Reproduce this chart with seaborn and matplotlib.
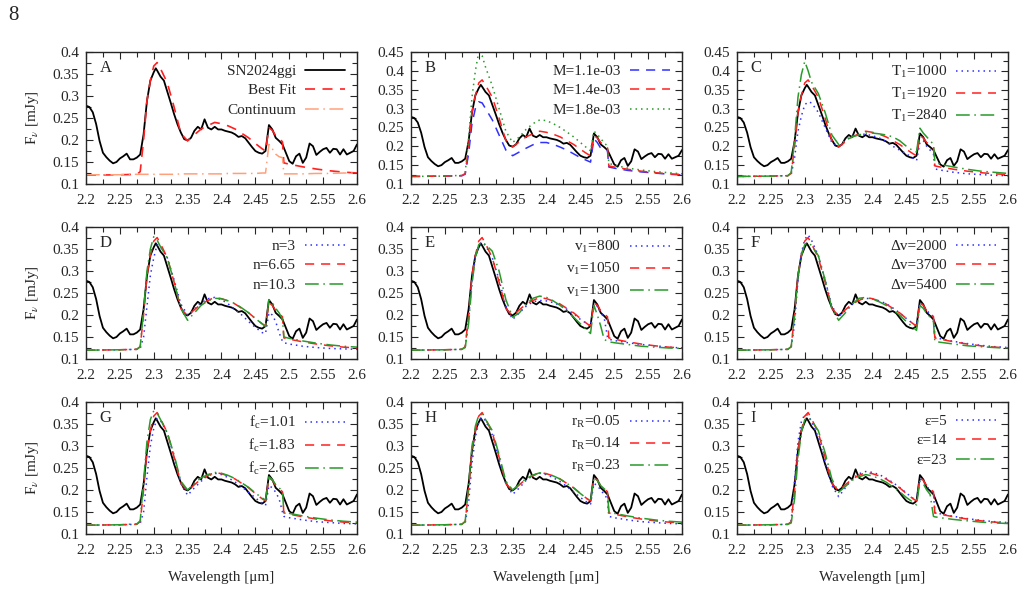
import matplotlib
matplotlib.use("Agg")
import matplotlib.pyplot as plt
from matplotlib.ticker import MultipleLocator
import seaborn as sns
import numpy as np

# observed spectrum SN2024ggi
obs_wl = [2.200, 2.205, 2.210, 2.215, 2.220, 2.225, 2.230, 2.235, 2.240, 2.245,
          2.250, 2.255, 2.260, 2.265, 2.270, 2.275, 2.280, 2.285, 2.290, 2.295,
          2.300, 2.303, 2.305, 2.310, 2.315, 2.320, 2.325, 2.330, 2.335, 2.340,
          2.345, 2.350, 2.355, 2.360, 2.365, 2.370, 2.375, 2.380, 2.385, 2.390,
          2.395, 2.400, 2.405, 2.410, 2.415, 2.420, 2.425, 2.430, 2.435, 2.440,
          2.445, 2.450, 2.455, 2.460, 2.465, 2.470, 2.475, 2.480, 2.485, 2.490,
          2.495, 2.500, 2.505, 2.510, 2.515, 2.520, 2.525, 2.530, 2.535, 2.540,
          2.545, 2.550, 2.555, 2.560, 2.565, 2.570, 2.575, 2.580, 2.585, 2.590,
          2.595, 2.600]
obs_flux = [0.278, 0.275, 0.263, 0.236, 0.198, 0.171, 0.161, 0.153, 0.147, 0.150,
            0.158, 0.163, 0.169, 0.156, 0.156, 0.160, 0.167, 0.213, 0.289, 0.335,
            0.354, 0.363, 0.358, 0.344, 0.335, 0.310, 0.285, 0.259, 0.236, 0.217,
            0.202, 0.199, 0.205, 0.221, 0.230, 0.224, 0.247, 0.228, 0.224, 0.230,
            0.224, 0.224, 0.221, 0.219, 0.217, 0.213, 0.207, 0.209, 0.204, 0.194,
            0.184, 0.175, 0.171, 0.169, 0.175, 0.234, 0.224, 0.205, 0.198, 0.190,
            0.171, 0.152, 0.146, 0.163, 0.169, 0.148, 0.160, 0.192, 0.186, 0.166,
            0.173, 0.179, 0.182, 0.171, 0.180, 0.179, 0.167, 0.179, 0.167, 0.171,
            0.175, 0.190]

# model wavelength grid
mod_wl = [2.200, 2.250, 2.275, 2.280, 2.285, 2.290, 2.295, 2.300, 2.305, 2.310,
          2.320, 2.330, 2.340, 2.350, 2.360, 2.370, 2.380, 2.390, 2.400, 2.410,
          2.420, 2.430, 2.440, 2.450, 2.460, 2.465, 2.470, 2.475, 2.480, 2.485,
          2.490, 2.492, 2.500, 2.520, 2.540, 2.560, 2.580, 2.600]

best_fit = [0.120, 0.121, 0.122, 0.128, 0.200, 0.290, 0.335, 0.368, 0.376, 0.362,
            0.330, 0.275, 0.215, 0.198, 0.212, 0.225, 0.233, 0.240, 0.237, 0.232,
            0.225, 0.215, 0.205, 0.192, 0.180, 0.175, 0.228, 0.222, 0.210, 0.203,
            0.196, 0.148, 0.145, 0.139, 0.134, 0.130, 0.127, 0.125]
continuum = [0.121, 0.121, 0.122, 0.122, 0.122, 0.122, 0.122, 0.122, 0.122, 0.122,
             0.122, 0.122, 0.123, 0.123, 0.123, 0.123, 0.123, 0.123, 0.123, 0.124,
             0.124, 0.124, 0.124, 0.124, 0.125, 0.125, 0.190, 0.180, 0.168, 0.162,
             0.160, 0.123, 0.123, 0.123, 0.124, 0.124, 0.125, 0.125]

b_low = [0.120, 0.121, 0.122, 0.126, 0.180, 0.260, 0.300, 0.318, 0.315, 0.300,
         0.270, 0.230, 0.190, 0.175, 0.185, 0.195, 0.204, 0.210, 0.210, 0.205,
         0.198, 0.190, 0.180, 0.170, 0.162, 0.158, 0.220, 0.210, 0.195, 0.190,
         0.188, 0.145, 0.142, 0.136, 0.132, 0.129, 0.126, 0.124]
b_high = [0.120, 0.121, 0.123, 0.130, 0.220, 0.330, 0.400, 0.450, 0.440, 0.410,
          0.360, 0.300, 0.240, 0.210, 0.225, 0.245, 0.260, 0.270, 0.268, 0.260,
          0.250, 0.238, 0.225, 0.210, 0.195, 0.188, 0.240, 0.232, 0.220, 0.210,
          0.200, 0.155, 0.150, 0.142, 0.137, 0.133, 0.130, 0.127]
c_low = [0.120, 0.121, 0.122, 0.125, 0.170, 0.240, 0.280, 0.310, 0.318, 0.315,
         0.290, 0.250, 0.210, 0.200, 0.215, 0.228, 0.232, 0.232, 0.228, 0.222,
         0.212, 0.200, 0.190, 0.180, 0.168, 0.162, 0.210, 0.215, 0.200, 0.190,
         0.180, 0.140, 0.137, 0.131, 0.127, 0.125, 0.123, 0.122]
c_high = [0.120, 0.121, 0.122, 0.130, 0.220, 0.330, 0.390, 0.425, 0.400, 0.370,
          0.340, 0.290, 0.230, 0.205, 0.215, 0.225, 0.230, 0.235, 0.235, 0.233,
          0.230, 0.225, 0.215, 0.200, 0.188, 0.185, 0.248, 0.235, 0.225, 0.215,
          0.205, 0.160, 0.152, 0.145, 0.139, 0.134, 0.131, 0.128]
d_low = [0.120, 0.121, 0.122, 0.124, 0.150, 0.220, 0.290, 0.330, 0.360, 0.355,
         0.330, 0.280, 0.225, 0.200, 0.213, 0.228, 0.237, 0.240, 0.235, 0.225,
         0.212, 0.200, 0.185, 0.172, 0.160, 0.158, 0.205, 0.200, 0.185, 0.160,
         0.140, 0.137, 0.134, 0.129, 0.126, 0.124, 0.123, 0.122]
d_high = [0.120, 0.121, 0.122, 0.128, 0.210, 0.300, 0.350, 0.378, 0.370, 0.355,
          0.330, 0.275, 0.215, 0.188, 0.205, 0.222, 0.232, 0.238, 0.237, 0.232,
          0.226, 0.216, 0.205, 0.192, 0.180, 0.174, 0.235, 0.228, 0.215, 0.205,
          0.190, 0.150, 0.147, 0.141, 0.136, 0.132, 0.129, 0.127]
e_low = [0.120, 0.121, 0.122, 0.127, 0.190, 0.280, 0.330, 0.360, 0.365, 0.358,
         0.330, 0.280, 0.220, 0.190, 0.205, 0.220, 0.230, 0.233, 0.232, 0.228,
         0.222, 0.213, 0.203, 0.190, 0.180, 0.175, 0.225, 0.220, 0.205, 0.195,
         0.150, 0.145, 0.142, 0.137, 0.133, 0.130, 0.127, 0.125]
e_high = [0.120, 0.121, 0.122, 0.126, 0.180, 0.270, 0.330, 0.360, 0.365, 0.360,
          0.345, 0.300, 0.235, 0.195, 0.205, 0.225, 0.238, 0.243, 0.240, 0.232,
          0.222, 0.210, 0.195, 0.180, 0.165, 0.158, 0.222, 0.200, 0.175, 0.145,
          0.140, 0.139, 0.137, 0.133, 0.129, 0.127, 0.125, 0.124]
f_low = [0.120, 0.121, 0.122, 0.126, 0.180, 0.280, 0.340, 0.372, 0.382, 0.370,
         0.335, 0.280, 0.220, 0.197, 0.210, 0.225, 0.235, 0.238, 0.236, 0.232,
         0.226, 0.216, 0.205, 0.192, 0.180, 0.175, 0.228, 0.222, 0.210, 0.203,
         0.196, 0.150, 0.146, 0.140, 0.135, 0.131, 0.128, 0.126]
f_high = [0.120, 0.121, 0.122, 0.128, 0.200, 0.290, 0.335, 0.360, 0.365, 0.358,
          0.335, 0.280, 0.215, 0.188, 0.205, 0.225, 0.238, 0.240, 0.236, 0.230,
          0.222, 0.212, 0.200, 0.185, 0.172, 0.165, 0.222, 0.215, 0.203, 0.195,
          0.185, 0.140, 0.138, 0.134, 0.130, 0.128, 0.126, 0.125]
g_low = [0.120, 0.121, 0.122, 0.124, 0.150, 0.230, 0.300, 0.340, 0.362, 0.358,
         0.330, 0.275, 0.215, 0.188, 0.205, 0.220, 0.232, 0.238, 0.235, 0.228,
         0.218, 0.207, 0.195, 0.182, 0.170, 0.165, 0.210, 0.205, 0.195, 0.180,
         0.150, 0.140, 0.137, 0.132, 0.128, 0.126, 0.124, 0.123]
g_high = [0.120, 0.121, 0.123, 0.130, 0.220, 0.310, 0.360, 0.380, 0.375, 0.360,
          0.330, 0.280, 0.220, 0.200, 0.215, 0.228, 0.235, 0.240, 0.238, 0.233,
          0.226, 0.216, 0.206, 0.193, 0.182, 0.177, 0.230, 0.224, 0.212, 0.205,
          0.197, 0.150, 0.147, 0.141, 0.136, 0.132, 0.129, 0.127]
h_low = [0.120, 0.121, 0.122, 0.125, 0.170, 0.260, 0.320, 0.355, 0.365, 0.358,
         0.325, 0.270, 0.215, 0.190, 0.205, 0.222, 0.233, 0.238, 0.235, 0.228,
         0.219, 0.208, 0.196, 0.183, 0.172, 0.168, 0.215, 0.210, 0.200, 0.190,
         0.180, 0.140, 0.137, 0.132, 0.128, 0.126, 0.124, 0.123]
h_high = [0.120, 0.121, 0.122, 0.129, 0.210, 0.300, 0.345, 0.370, 0.372, 0.360,
          0.335, 0.280, 0.220, 0.200, 0.213, 0.226, 0.234, 0.239, 0.237, 0.232,
          0.225, 0.215, 0.205, 0.192, 0.180, 0.175, 0.228, 0.222, 0.210, 0.203,
          0.196, 0.150, 0.147, 0.141, 0.136, 0.132, 0.129, 0.127]
i_low = [0.120, 0.121, 0.122, 0.130, 0.220, 0.310, 0.355, 0.372, 0.370, 0.355,
         0.320, 0.265, 0.210, 0.185, 0.205, 0.225, 0.237, 0.242, 0.240, 0.235,
         0.227, 0.217, 0.206, 0.193, 0.181, 0.176, 0.225, 0.220, 0.208, 0.200,
         0.193, 0.148, 0.146, 0.140, 0.135, 0.131, 0.128, 0.126]
i_high = [0.120, 0.121, 0.122, 0.125, 0.180, 0.270, 0.330, 0.360, 0.365, 0.358,
          0.335, 0.285, 0.225, 0.195, 0.208, 0.222, 0.230, 0.235, 0.232, 0.226,
          0.218, 0.207, 0.196, 0.183, 0.172, 0.166, 0.220, 0.214, 0.200, 0.190,
          0.140, 0.139, 0.137, 0.133, 0.130, 0.127, 0.125, 0.124]

panel_letters = ["A", "B", "C", "D", "E", "F", "G", "H", "I"]
panel_labels = [
    None,
    ["M=1.1e-03", "M=1.4e-03", "M=1.8e-03"],
    [r"T$_\mathregular{1}$=1000", r"T$_\mathregular{1}$=1920", r"T$_\mathregular{1}$=2840"],
    ["n=3", "n=6.65", "n=10.3"],
    [r"v$_\mathregular{1}$=800", r"v$_\mathregular{1}$=1050", r"v$_\mathregular{1}$=1300"],
    ["\u0394v=2000", "\u0394v=3700", "\u0394v=5400"],
    [r"f$_\mathregular{c}$=1.01", r"f$_\mathregular{c}$=1.83", r"f$_\mathregular{c}$=2.65"],
    [r"r$_\mathregular{R}$=0.05", r"r$_\mathregular{R}$=0.14", r"r$_\mathregular{R}$=0.23"],
    ["\u03b5=5", "\u03b5=14", "\u03b5=23"],
]
panel_lows = [None, b_low, c_low, d_low, e_low, f_low, g_low, h_low, i_low]
panel_highs = [None, b_high, c_high, d_high, e_high, f_high, g_high, h_high, i_high]

x_ticks = [2.2, 2.25, 2.3, 2.35, 2.4, 2.45, 2.5, 2.55, 2.6]

sns.set_style("ticks")
plt.rcParams['font.family'] = ['Liberation Serif', 'DejaVu Serif']
plt.rcParams['mathtext.fontset'] = 'stix'
plt.rcParams['font.size'] = 11

RED = "#ff2020"
BLUE = "#3030ff"
GREEN = "#2a9a2a"
ORANGE = "#ffa07a"
DOT = (0, (1, 2.6))
DASH = (0, (6, 4.5))
DASHDOT = (0, (9, 3, 1, 3))

fig = plt.figure(figsize=(10.26, 6.10), dpi=100)
fig.text(0.008, 0.975, "8", fontsize=15, va="center", ha="left")

lefts = [86, 411, 737]
bottoms = [184, 359, 534]
W, H = 1026, 610

for k in range(9):
    r, c = divmod(k, 3)
    ax = fig.add_axes([lefts[c] / W, 1 - bottoms[r] / H, 271 / W, 132 / H])

    if k == 0:
        sns.lineplot(x=obs_wl, y=obs_flux, color="black", lw=1.3, ax=ax, label="SN2024ggi")
        sns.lineplot(x=mod_wl, y=best_fit, color=RED, lw=1.2, linestyle=DASH, ax=ax, label="Best Fit")
        sns.lineplot(x=mod_wl, y=continuum, color=ORANGE, lw=1.1, linestyle=DASHDOT, ax=ax, label="Continuum")
    else:
        labs = panel_labels[k]
        low_style = DASH if k == 1 else DOT
        high_style = DOT if k == 1 else DASHDOT
        sns.lineplot(x=obs_wl, y=obs_flux, color="black", lw=1.3, ax=ax)
        sns.lineplot(x=mod_wl, y=panel_lows[k], color=BLUE, lw=1.1, linestyle=low_style, ax=ax, label=labs[0])
        sns.lineplot(x=mod_wl, y=best_fit, color=RED, lw=1.1, linestyle=DASH, ax=ax, label=labs[1])
        sns.lineplot(x=mod_wl, y=panel_highs[k], color=GREEN, lw=1.1, linestyle=high_style, ax=ax, label=labs[2])

    ymax = 0.45 if k in (1, 2) else 0.4
    ax.set_xlim(2.2, 2.6)
    ax.set_ylim(0.1, ymax)
    ax.set_xticks(x_ticks)
    ax.set_xticklabels([f"{t:g}" for t in x_ticks])
    yt = [0.1, 0.15, 0.2, 0.25, 0.3, 0.35, 0.4] + ([0.45] if ymax > 0.4 else [])
    ax.set_yticks(yt)
    ax.set_yticklabels([f"{t:g}" for t in yt])
    ax.xaxis.set_minor_locator(MultipleLocator(0.025))
    ax.yaxis.set_minor_locator(MultipleLocator(0.025))
    ax.tick_params(which="both", direction="in", top=True, right=True, width=0.8)
    ax.tick_params(which="major", length=5, labelsize=11)
    ax.tick_params(which="minor", length=3.5)
    ax.tick_params(axis="x", pad=7)
    ax.tick_params(axis="y", pad=5)
    for s in ax.spines.values():
        s.set_linewidth(1.0)

    ax.text(0.05, 0.85, panel_letters[k], transform=ax.transAxes, fontsize=12)

    ax.legend(loc="upper right", frameon=False, markerfirst=False, fontsize=11,
              handlelength=2.6, handletextpad=0.6, labelspacing=0.38,
              borderaxespad=0.35, borderpad=0.45)

    ax.set_xlabel("Wavelength [\u03bcm]" if r == 2 else "", fontsize=11, labelpad=10)
    ax.set_ylabel(r"F$_\nu$ [mJy]" if c == 0 else "", fontsize=11, labelpad=8)

fig.savefig("out.png", dpi=100)
